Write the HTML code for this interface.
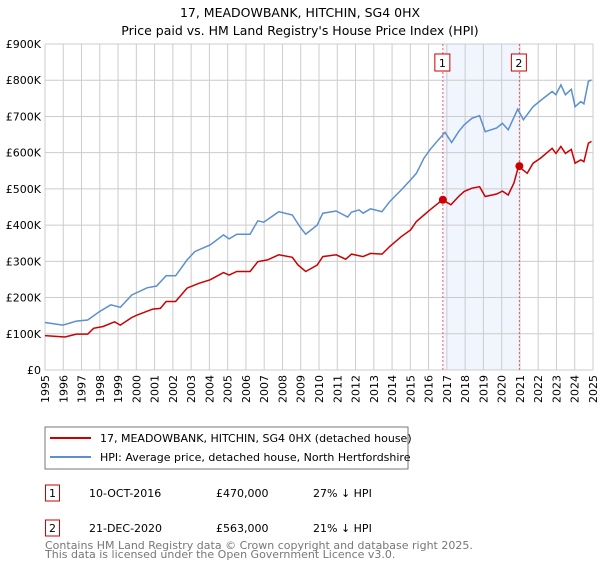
<!DOCTYPE html>
<html><head><meta charset="utf-8"><style>
body{margin:0;background:#fff;font-family:"Liberation Sans","DejaVu Sans",sans-serif;}
svg text{font-family:"DejaVu Sans","Liberation Sans",sans-serif;}
</style></head><body>
<svg id="c" width="600" height="560" xmlns="http://www.w3.org/2000/svg">
<text x="300" y="17" text-anchor="middle" font-size="12.5" fill="#000">17, MEADOWBANK, HITCHIN, SG4 0HX</text>
<text x="300" y="35" text-anchor="middle" font-size="12.5" fill="#000">Price paid vs. HM Land Registry's House Price Index (HPI)</text>
<g id="grid"></g>
<g id="marks"></g>
<g id="axes"></g>
<rect x="45" y="427" width="363" height="42" fill="#fff" stroke="#777"/>
<line x1="50" y1="438" x2="91" y2="438" stroke="#cc0000" stroke-width="2"/>
<text x="100" y="442" font-size="11">17, MEADOWBANK, HITCHIN, SG4 0HX (detached house)</text>
<line x1="50" y1="457" x2="91" y2="457" stroke="#5b8fd0" stroke-width="2"/>
<text x="100" y="461" font-size="11">HPI: Average price, detached house, North Hertfordshire</text>
<g>
<rect x="45.5" y="485" width="14" height="16" fill="#fff" stroke="#cc0000"/>
<text x="52.5" y="497" font-size="11" text-anchor="middle">1</text>
<text x="89" y="497" font-size="11">10-OCT-2016</text>
<text x="216" y="497" font-size="11">£470,000</text>
<text x="313" y="497" font-size="11">27% ↓ HPI</text></g>
<g>
<rect x="45.5" y="520" width="14" height="16" fill="#fff" stroke="#cc0000"/>
<text x="52.5" y="532" font-size="11" text-anchor="middle">2</text>
<text x="89" y="532" font-size="11">21-DEC-2020</text>
<text x="216" y="532" font-size="11">£563,000</text>
<text x="313" y="532" font-size="11">21% ↓ HPI</text></g>
<text x="45" y="549" font-size="11" fill="#777">Contains HM Land Registry data © Crown copyright and database right 2025.</text>
<text x="45" y="558" font-size="11" fill="#777">This data is licensed under the Open Government Licence v3.0.</text>
</svg>
<script>
const yTicks=[0,100,200,300,400,500,600,700,800,900];
const yTickLabels=["£0","£100K","£200K","£300K","£400K","£500K","£600K","£700K","£800K","£900K"];
const years=[1995,1996,1997,1998,1999,2000,2001,2002,2003,2004,2005,2006,2007,2008,2009,2010,2011,2012,2013,2014,2015,2016,2017,2018,2019,2020,2021,2022,2023,2024,2025];
const hpiT=[0,0.98,1.72,2.34,2.97,3.6,4.12,4.75,5.59,6.11,6.63,7.15,7.78,8.2,9.04,9.77,10.08,10.5,11.23,11.65,11.97,12.8,13.54,13.95,14.27,14.9,15.21,15.94,16.57,16.78,17.2,17.41,17.82,18.45,18.87,19.5,20.02,20.33,20.75,21.07,21.38,21.9,22.26,22.64,22.95,23.37,23.79,24.1,24.73,25.04,25.36,25.88,26.19,26.72,27.13,27.76,27.97,28.24,28.49,28.81,29.02,29.33,29.5,29.75,29.92];
const hpiV=[131,124,135,138,161,180,173,207,227,232,260,260,304,327,345,373,362,375,375,412,408,437,428,396,375,400,433,439,422,436,442,433,445,437,465,497,525,543,585,608,626,656,628,658,677,695,702,658,668,681,663,720,691,727,744,769,760,787,760,775,727,741,735,797,801];
const ppT=[0,1.09,1.72,2.34,2.66,3.18,3.81,4.12,4.75,5.06,5.9,6.32,6.63,7.15,7.78,8.41,9.04,9.77,10.08,10.5,11.23,11.65,12.18,12.8,13.54,13.85,14.27,14.9,15.21,15.94,16.46,16.78,17.41,17.82,18.45,18.87,19.5,20.02,20.33,20.75,21.07,21.76,22.22,22.64,22.95,23.37,23.79,24.1,24.73,25.04,25.36,25.67,25.92,26.4,26.72,27.13,27.76,27.97,28.24,28.49,28.81,29.02,29.33,29.5,29.75,29.92];
const ppV=[95,91,99,99,115,120,133,124,145,152,168,170,189,189,226,239,249,269,262,272,272,299,304,318,311,290,272,290,313,318,306,320,313,322,320,341,368,387,410,428,442,470,456,479,493,502,506,479,486,494,483,516,562,543,571,585,612,598,617,598,609,571,580,575,626,631];
const saleYears=[2016.78,2020.97];
const saleValues=[470,563];
const saleLabels=["1","2"];
const X0=45,X1=593,Y0=370,Y1=44;
const xs=y=>X0+(y-1995)*(X1-X0)/30;
const ys=v=>Y0-v*(Y0-Y1)/900;
const NS="http://www.w3.org/2000/svg";
function mk(p,t,a){const e=document.createElementNS(NS,t);for(const k in a)e.setAttribute(k,a[k]);p.appendChild(e);return e;}
const grid=document.getElementById('grid'),marks=document.getElementById('marks'),axes=document.getElementById('axes');
const band=mk(grid,'rect',{x:xs(saleYears[0]),y:Y1,width:xs(saleYears[1])-xs(saleYears[0]),height:Y0-Y1,fill:'#eef3fc',opacity:0.8});


years.forEach(y=>{const l=mk(grid,'line',{x1:xs(y),x2:xs(y),y1:Y1,y2:Y0,stroke:'#cccccc','stroke-width':1});


const t=mk(axes,'text',{transform:`translate(${xs(y)+4},${Y0+5}) rotate(-90)`,'text-anchor':'end','font-size':11});t.textContent=y;

});
yTicks.forEach((v,i)=>{const l=mk(grid,'line',{x1:X0,x2:X1,y1:ys(v),y2:ys(v),stroke:'#cccccc','stroke-width':1});


const t=mk(axes,'text',{x:X0-4,y:ys(v)+4,'text-anchor':'end','font-size':11});t.textContent=yTickLabels[i];

});
saleYears.forEach((y,i)=>{const l=mk(marks,'line',{x1:xs(y),x2:xs(y),y1:Y1,y2:Y0,stroke:'#e06060','stroke-width':1,'stroke-dasharray':'2,2'});


const r=mk(marks,'rect',{x:xs(y)-8,y:54,width:15,height:17,fill:'#fff',stroke:'#cc0000'});


const t=mk(marks,'text',{x:xs(y)-0.5,y:67,'text-anchor':'middle','font-size':11});t.textContent=saleLabels[i];

});
const pts=(T,V)=>T.map((t,i)=>xs(1995+t).toFixed(1)+','+ys(V[i]).toFixed(1)).join(' ');
const h=mk(marks,'polyline',{points:pts(hpiT,hpiV),fill:'none',stroke:'#5b8fd0','stroke-width':1.5});


const p=mk(marks,'polyline',{points:pts(ppT,ppV),fill:'none',stroke:'#cc0000','stroke-width':1.5});


saleYears.forEach((y,i)=>{const c=mk(marks,'circle',{cx:xs(y),cy:ys(saleValues[i]),r:4,fill:'#cc0000'});

});
</script>
</body></html>
